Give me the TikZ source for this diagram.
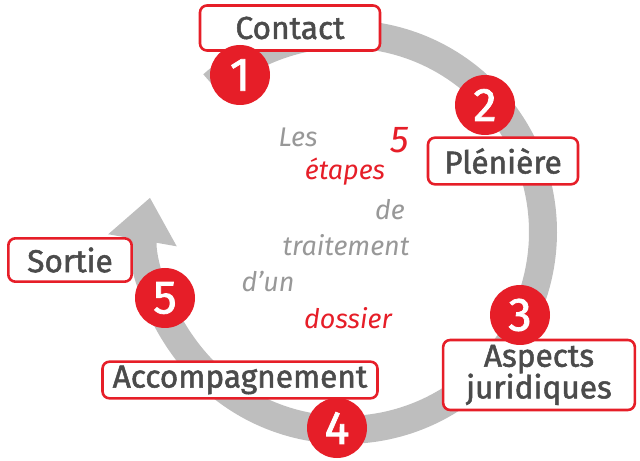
\documentclass[tikz,border=0pt]{standalone}
\usepackage{fontspec}
\setmainfont{Fira Sans}
\newfontfamily\grasse[FakeBold=1.6]{Fira Sans}
\usetikzlibrary{arrows.meta}
\definecolor{rouge}{RGB}{230,30,40}
\definecolor{gris}{RGB}{190,190,190}
\definecolor{texte}{RGB}{75,75,75}
\tikzset{
  etiquette/.style={draw=rouge,line width=2.2pt,rounded corners=6pt,fill=white,
    text=texte,font=\grasse\fontsize{27}{28}\selectfont,align=center,inner sep=0pt},
  pastille/.style={circle,fill=rouge,text=white,minimum size=1.8cm,inner sep=0pt,
    font=\grasse\fontsize{40}{40}\selectfont},
  mot/.style={font=\fontsize{23}{25}\selectfont\itshape,text=gris!80!black}
}
\begin{document}
\begin{tikzpicture}[x=0.03cm,y=-0.03cm]
\useasboundingbox (0,0) rectangle (640,461);
% the big grey circular arrow
\draw[gris,line width=0.84cm,-{Triangle[length=1.3cm,width=2cm]}]
  (345,232) ++(228:198) arc[start angle=228,end angle=550,radius=198];

% boxes
\node[etiquette,minimum width=5.4cm,minimum height=1.35cm] (contact) at (290,28) {Contact};
\node[etiquette,minimum width=4.5cm,minimum height=1.4cm] (pleniere) at (503,161) {Plénière};
\node[etiquette,minimum width=5.75cm,minimum height=2.1cm] (juridique) at (539,375) {Aspects\\[-1pt]juridiques};
\node[etiquette,minimum width=8.25cm,minimum height=1.1cm] (accomp) at (240,380) {Accompagnement};
\node[etiquette,minimum width=3.7cm,minimum height=1.3cm] (sortie) at (70,260) {Sortie};

% numbers
\node[pastille] (n1) at (240,75) {1};
\node[pastille] (n2) at (485,105) {2};
\node[pastille] (n3) at (520,315) {3};
\node[pastille] (n4) at (337,428) {4};
\node[pastille] (n5) at (165,298) {5};

% centre text
\node[mot] (les) at (298,137) {Les};
\node[mot,text=rouge,font=\fontsize{32}{34}\selectfont\itshape] (cinq) at (400,140) {5};
\node[mot,text=rouge] (etapes) at (345,172) {étapes};
\node[mot] (de) at (390,210) {de};
\node[mot] (traitement) at (346,245) {traitement};
\node[mot] (dun) at (268,282) {d’un};
\node[mot,text=rouge] (dossier) at (348,318) {dossier};
\end{tikzpicture}
\end{document}
